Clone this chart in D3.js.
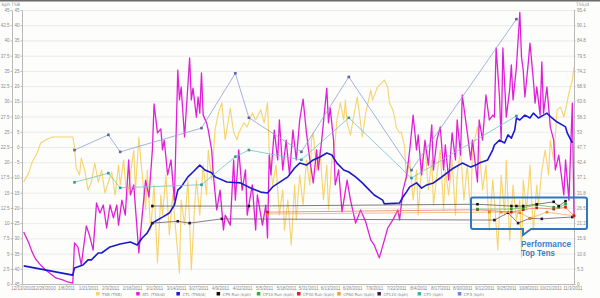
<!DOCTYPE html>
<html>
<head>
<meta charset="utf-8">
<script src="https://cdn.jsdelivr.net/npm/d3@7"></script>
<style>
  body { margin: 0; background: #ffffff; }
  svg { display: block; font-family: "DejaVu Sans", Verdana, sans-serif; }
</style>
</head>
<body>
<svg id="chart" width="600" height="298"></svg>
<script>
var width = 600;
var height = 298;

var plot = { "left": 22, "right": 574, "top": 10, "bottom": 284 };

var parseDate = d3.timeParse("%m/%d/%Y");
var startDate = parseDate("12/13/2010");
var endDate = parseDate("11/4/2011");

// tick labels
var dateTicks = ["12/13/2010","12/26/2010","1/8/2011","1/21/2011","2/3/2011","2/16/2011","3/1/2011",
  "3/14/2011","3/27/2011","4/9/2011","4/22/2011","5/5/2011","5/18/2011","5/31/2011","6/13/2011",
  "6/26/2011","7/9/2011","7/22/2011","8/4/2011","8/17/2011","8/30/2011","9/12/2011","9/25/2011",
  "10/8/2011","10/21/2011","11/3/2011"];
var kphTicks = [0,2.5,5,7.5,10,12.5,15,17.5,20,22.5,25,27.5,30,32.5,35,37.5,40,42.5,45];
var tsbTicks = [-45,-40,-35,-30,-25,-20,-15,-10,-5,0,5,10,15,20,25,30,35,40,45];
var tssTicks = [0,5.3,10.6,15.9,21.2,26.5,31.8,37.1,42.4,47.7,53,58.3,63.6,68.9,74.2,79.5,84.8,90.1,95.4];

// series: [day since 12/13/2010, value]
var tsb = [[1,-11.5],[4,-8.5],[6,-4.9],[9,-2.0],[11,1.3],[15,2.6],[18,3.3],[22,3.3],[30,3.3],[31,0],
  [32,-6.9],[34,-9.2],[35,-3.6],[37,-7.6],[39,-14.1],[41,-11.5],[43,-5.3],[45,-11.5],[47,-7.6],[49,-15.1],
  [51,-11.5],[53,-8.2],[55,-15.8],[57,-5.9],[58,-12.5],[60,-4.3],[62,-17.4],[64,-9.2],[66,-1.0],[67,-14.1],
  [69,3.3],[71,-9.2],[73,-20.7],[74,-7.6],[76,-27.3],[78,-12.5],[80,-38.1],[82,-15.8],[83,-22.3],[85,-9.2],
  [87,-28.9],[89,-15.8],[90,-22.3],[93,-41.4],[94,-17.4],[96,-25.6],[98,-10.8],[100,-40.4],[102,-19.1],
  [103,-10.8],[105,-22.3],[107,-5.9],[109,-15.8],[110,-1.0],[112,-10.8],[114,5.6],[116,11.2],[118,14.5],
  [120,2.3],[123,12.8],[125,4.9],[127,2.3],[128,4.6],[131,7.9],[133,6.6],[136,11.2],[138,8.9],[141,12.2],
  [143,7.9],[145,14.5],[146,-1.0],[148,-12.5],[150,-5.9],[152,-22.3],[154,-14.1],[155,-27.3],[157,-17.4],
  [159,-32.2],[161,-12.5],[162,-24.0],[164,-9.2],[166,-19.1],[168,-4.3],[170,-12.5],[171,2.3],[172,4.6],
  [174,-7.6],[176,-1.0],[178,-17.4],[180,-5.9],[181,-20.7],[183,-4.3],[185,2.3],[186,8.9],[188,14.5],
  [190,8.9],[191,15.4],[192,7.9],[194,3.9],[196,10.5],[198,16.4],[201,3.3],[203,11.2],[206,18.7],[207,15.4],
  [210,19.7],[213,21.4],[214,22.0],[216,19.7],[217,14.5],[219,12.2],[220,9.9],[221,6.6],[223,4.6],[224,4.9],
  [226,0],[227,-10.8],[229,-4.3],[231,-17.4],[233,-7.6],[234,-22.3],[236,-5.9],[238,0],[240,-14.1],
  [242,-4.3],[243,-19.1],[245,-9.2],[247,-1.0],[249,-20.7],[250,-7.6],[252,-15.8],[254,-4.3],[256,-22.3],
  [257,-9.2],[259,-1.0],[261,-17.4],[263,-5.9],[265,-22.3],[266,-1.0],[269,6.6],[270,0],[272,-14.1],
  [274,-5.9],[276,-27.3],[278,-10.8],[279,-17.4],[281,-33.8],[283,-9.2],[285,-22.3],[286,-4.3],[288,-30.6],
  [290,-12.5],[292,-24.0],[294,-17.4],[295,-36.1],[296,-10.8],[298,-20.7],[300,-5.9],[302,-27.3],
  [304,-12.5],[305,-19.1],[307,-7.6],[309,-1.0],[311,-9.2],[312,2.3],[314,-4.3],[316,12.2],[318,13.1],
  [320,9.9],[321,12.2],[323,17.7],[325,22.0],[326,26.3]];

var atl = [[1,18.1],[4,14.3],[6,11.1],[8,8.7],[11,6.6],[14,4.9],[17,3.5],[20,2.1],[24,1.4],[27,0.7],[30,0.3],
  [31,14.3],[33,12.9],[35,6.6],[38,20.2],[40,16.7],[42,11.8],[44,28.2],[46,24.7],[48,27.5],[50,19.5],
  [52,27.5],[54,23.0],[56,27.5],[57,20.5],[59,29.2],[61,24.0],[63,43.2],[64,31.0],[66,34.5],[69,10.8],
  [71,24.0],[73,36.2],[75,30.3],[77,46.7],[78,62.7],[80,52.6],[82,54.0],[83,46.7],[84,50.1],[86,38.0],
  [88,43.2],[90,29.2],[92,74.5],[93,64.1],[94,68.6],[96,51.2],[99,78.7],[100,64.1],[101,68.2],[103,58.1],
  [104,65.1],[105,59.5],[106,73.5],[107,58.8],[109,56.1],[110,53.6],[112,46.7],[113,38.0],[115,25.8],
  [117,32.7],[119,18.8],[120,24.0],[123,20.5],[125,43.2],[126,29.2],[128,46.7],[130,32.7],[132,39.7],
  [133,24.0],[136,34.5],[138,18.8],[139,31.0],[142,20.5],[144,27.5],[145,16.0],[146,44.9],[147,38.0],
  [149,53.6],[151,43.2],[152,57.1],[154,39.7],[156,50.1],[158,38.0],[160,53.6],[162,43.2],[164,57.1],
  [166,64.4],[168,52.6],[170,43.2],[172,35.2],[174,46.7],[175,39.7],[177,50.1],[180,68.2],[181,56.1],
  [182,61.3],[184,50.1],[185,34.5],[187,39.7],[189,25.1],[192,36.2],[194,29.2],[197,21.2],[200,25.8],
  [203,21.6],[206,15.3],[208,13.6],[211,9.1],[214,15.3],[216,19.5],[219,22.3],[222,25.8],[223,22.3],
  [225,32.7],[227,37.3],[229,46.7],[231,58.8],[233,46.7],[234,51.9],[236,38.0],[238,50.1],[240,41.4],
  [242,55.4],[243,39.7],[245,50.1],[247,54.7],[249,39.7],[250,48.4],[252,36.2],[254,52.6],[256,43.2],
  [257,57.1],[259,44.9],[260,65.8],[263,52.6],[265,43.2],[266,50.1],[269,35.5],[270,57.1],[272,50.1],
  [274,65.8],[276,57.1],[278,58.8],[279,58.1],[280,82.2],[282,65.1],[283,50.1],[284,82.2],[286,58.1],
  [288,67.6],[289,76.3],[290,64.1],[292,75.6],[294,94.6],[295,79.0],[296,74.5],[297,65.1],[299,77.0],
  [300,83.9],[302,71.0],[303,63.0],[304,68.6],[306,58.8],[307,77.3],[308,59.5],[310,68.6],[312,54.7],
  [314,50.1],[315,39.7],[317,44.9],[320,31.0],[321,43.2],[323,29.2],[325,63.0],[326,23.7]];

var ctl = [[1,6.3],[30,3.1],[31,5.6],[36,6.6],[39,8.4],[41,8.4],[45,10.8],[47,10.8],[52,12.9],[58,13.9],
  [64,14.6],[68,13.6],[71,16.0],[74,17.8],[77,21.2],[80,22.3],[83,23.3],[87,24.7],[90,27.5],[92,32.7],
  [94,33.8],[98,37.3],[101,39.0],[105,41.4],[108,39.7],[112,38.7],[114,37.3],[121,35.5],[129,35.2],
  [135,33.4],[141,32.0],[145,31.7],[148,33.8],[157,37.3],[161,40.4],[164,42.1],[168,41.4],[172,43.2],
  [176,44.2],[180,45.6],[183,44.9],[186,42.1],[190,39.7],[193,39.0],[197,37.3],[201,35.2],[204,33.4],
  [208,31.0],[213,29.2],[214,27.9],[223,28.2],[225,30.3],[227,32.0],[229,33.8],[233,35.2],[236,33.4],
  [239,34.5],[243,35.2],[247,36.9],[251,38.7],[255,40.4],[260,42.1],[265,40.7],[268,41.4],[270,42.1],
  [275,43.2],[278,46.7],[279,48.4],[282,50.1],[285,49.1],[287,51.9],[289,50.8],[291,53.6],[292,57.8],
  [294,57.1],[297,58.8],[300,57.8],[302,59.5],[305,57.8],[308,58.8],[310,59.5],[313,57.8],[316,56.4],
  [319,55.4],[321,54.7],[322,52.6],[325,49.1]];

var cp5Run = [[77,12.8],[134,12.8],[269,13.1],[289,12.8],[292,12.8],[296,12.8],[304,13.1],[314,13.5],[317,12.8],[321,13.6]];
var cp10Run = [[269,12.3],[289,12.3],[296,12.5],[304,13.0],[314,12.6],[317,12.6],[321,13.1]];
var cp30Run = [[145,11.8],[269,12.2],[289,11.8],[296,12.2],[304,12.5],[314,12.3],[321,12.6],[326,11.2]];
var cp60Run = [[145,11.5],[276,11.8],[283,11.8],[294,11.7],[300,10.8],[310,11.8],[326,11.2]];
var cp120 = [[77,10.0],[92,10.3],[99,10.0],[118,10.7],[279,10.5],[287,11.7],[293,10.0],[300,10.8],[307,10.7],[325,11.0]];
var cp1 = [[31,16.7],[51,18.2],[58,15.8],[106,16.3],[126,20.9],[134,22.0],[165,20.4],[193,27.3],[230,17.4],[292,27.6]];
var cpHalf = [[31,22.0],[51,24.5],[58,21.7],[106,25.6],[126,34.6],[134,27.3],[165,21.7],[193,34.0],[230,18.7],[292,43.5]];

var legendNames = ["TSB (TSB)","ATL (TSS/d)","CTL (TSS/d)","CP5 Run (kph)","CP10 Run (kph)",
  "CP30 Run (kph)","CP60 Run (kph)","CP120 (kph)","CP1 (kph)","CP.5 (kph)"];
var legendColors = ["#f6d36c","#e020d8","#1a1acc","#111111","#2db52d","#e02424","#eea032","#3a1f44","#3fb0b0","#6f82d0"];

// scales
var scaleX = d3.scaleTime().domain([startDate, endDate]).range([plot.left, plot.right]);
var scaleKph = d3.scaleLinear().domain([0, 45]).range([plot.bottom, plot.top]);
var scaleTsb = d3.scaleLinear().domain([-45, 45]).range([plot.bottom, plot.top]);
var scaleTss = d3.scaleLinear().domain([0, 95.4]).range([plot.bottom, plot.top]);

var dayX = function(d) { return scaleX(d3.timeDay.offset(startDate, d[0])); };

var svg = d3.select("#chart");

svg.append("rect").attr("width", width).attr("height", height).attr("fill", "#fdfdfc");
svg.append("rect").attr("width", width).attr("height", 1.5).attr("fill", "#6a6a6a");

// gridlines
svg.append("g").attr("class", "grid")
  .selectAll("line").data(kphTicks).enter().append("line")
    .attr("x1", plot.left).attr("x2", plot.right)
    .attr("y1", function(d) { return scaleKph(d) + 0.5; })
    .attr("y2", function(d) { return scaleKph(d) + 0.5; })
    .attr("stroke", "#ebebea").attr("stroke-width", 1);

// axes
function styleAxis(g) {
  g.select(".domain").attr("stroke", "#b9b9b9");
  g.selectAll(".tick line").attr("stroke", "#b9b9b9");
  g.selectAll(".tick text").attr("fill", "#8a8a8a").style("font-size", "4.5px");
}

svg.append("g").attr("transform", "translate(12,0)")
  .call(d3.axisLeft(scaleKph).tickValues(kphTicks).tickSize(1.5).tickPadding(1).tickSizeOuter(0)
    .tickFormat(d3.format("~g")))
  .call(styleAxis);

svg.append("g").attr("transform", "translate(" + plot.left + ",0)")
  .call(d3.axisLeft(scaleTsb).tickValues(tsbTicks).tickSize(1.5).tickPadding(1).tickSizeOuter(0))
  .call(styleAxis);

svg.append("g").attr("transform", "translate(" + plot.right + ",0)")
  .call(d3.axisRight(scaleTss).tickValues(tssTicks).tickSize(1.5).tickPadding(1.5).tickSizeOuter(0)
    .tickFormat(d3.format("~g")))
  .call(styleAxis);

var formatTick = d3.timeFormat("%-m/%-d/%Y");
svg.append("g").attr("transform", "translate(0," + plot.bottom + ")")
  .call(d3.axisBottom(scaleX).tickValues(dateTicks.map(parseDate)).tickFormat(formatTick)
    .tickSize(1.5).tickPadding(1.5).tickSizeOuter(0))
  .call(styleAxis);

// axis titles
function axisTitle(x, text, anchor) {
  svg.append("text").attr("x", x).attr("y", 6).attr("text-anchor", anchor)
    .attr("fill", "#8a8a8a").style("font-size", "4.5px").text(text);
}
axisTitle(10, "kph", "end");
axisTitle(20, "TSB", "end");
axisTitle(576, "TSS/d", "start");

// lines
function drawLine(dataset, scaleY, stroke, width) {
  var line = d3.line().x(dayX).y(function(d) { return scaleY(d[1]); });
  svg.append("path").datum(dataset)
    .attr("fill", "none").attr("stroke", stroke).attr("stroke-width", width)
    .attr("stroke-linejoin", "round").attr("d", line);
}

function drawPlots(dataset, scaleY, fill, lineColor) {
  drawLine(dataset, scaleY, lineColor, 0.8);
  svg.append("g").selectAll("rect").data(dataset).enter().append("rect")
    .attr("x", function(d) { return dayX(d) - 1.3; })
    .attr("y", function(d) { return scaleY(d[1]) - 1.3; })
    .attr("width", 2.6).attr("height", 2.6)
    .attr("fill", fill);
}

drawLine(tsb, scaleTsb, "#f6d36c", 1.1);
drawLine(atl, scaleTss, "#e020d8", 1.3);
drawLine(ctl, scaleTss, "#1a1acc", 1.6);

drawPlots(cpHalf, scaleKph, "#5566aa", "#8e9fd6");
drawPlots(cp1, scaleKph, "#2a9a9a", "#6cc4c4");
drawPlots(cp120, scaleKph, "#2a1530", "#6a5a70");
drawPlots(cp60Run, scaleKph, "#e08a10", "#f0b060");
drawPlots(cp30Run, scaleKph, "#d01515", "#ee7a6a");
drawPlots(cp10Run, scaleKph, "#1fa01f", "#5ac45a");
drawPlots(cp5Run, scaleKph, "#111111", "#5a5a5a");

// callout box
var box = svg.append("g").attr("class", "callout");
box.append("path")
  .attr("d", "M473,197.5 H585 Q587,197.5 587,199.5 V227 Q587,229 585,229 H531 L523,235 V229 H473 Q471,229 471,227 V199.5 Q471,197.5 473,197.5 Z")
  .attr("fill", "none").attr("stroke", "#2f78c0").attr("stroke-width", 2);
box.append("text").attr("x", 521).attr("y", 246.5).attr("fill", "#3a80c6")
  .attr("textLength", 50).attr("lengthAdjust", "spacingAndGlyphs")
  .style("font-size", "8.5px").style("font-weight", "bold").style("font-family", "Liberation Sans, Arial, sans-serif")
  .text("Performance");
box.append("text").attr("x", 521).attr("y", 256).attr("fill", "#3a80c6")
  .attr("textLength", 34).attr("lengthAdjust", "spacingAndGlyphs")
  .style("font-size", "8.5px").style("font-weight", "bold").style("font-family", "Liberation Sans, Arial, sans-serif")
  .text("Top Tens");

// legend
var legend = svg.append("g").attr("class", "legend");
legendNames.forEach(function(name, i) {
  var lx = 96 + i * 40.2;
  legend.append("rect").attr("x", lx).attr("y", 292).attr("width", 3.5).attr("height", 3.5)
    .attr("fill", legendColors[i]);
  legend.append("text").attr("x", lx + 6).attr("y", 295.5).attr("fill", "#8a8a8a")
    .style("font-size", "4px").text(name);
});
</script>
</body>
</html>
